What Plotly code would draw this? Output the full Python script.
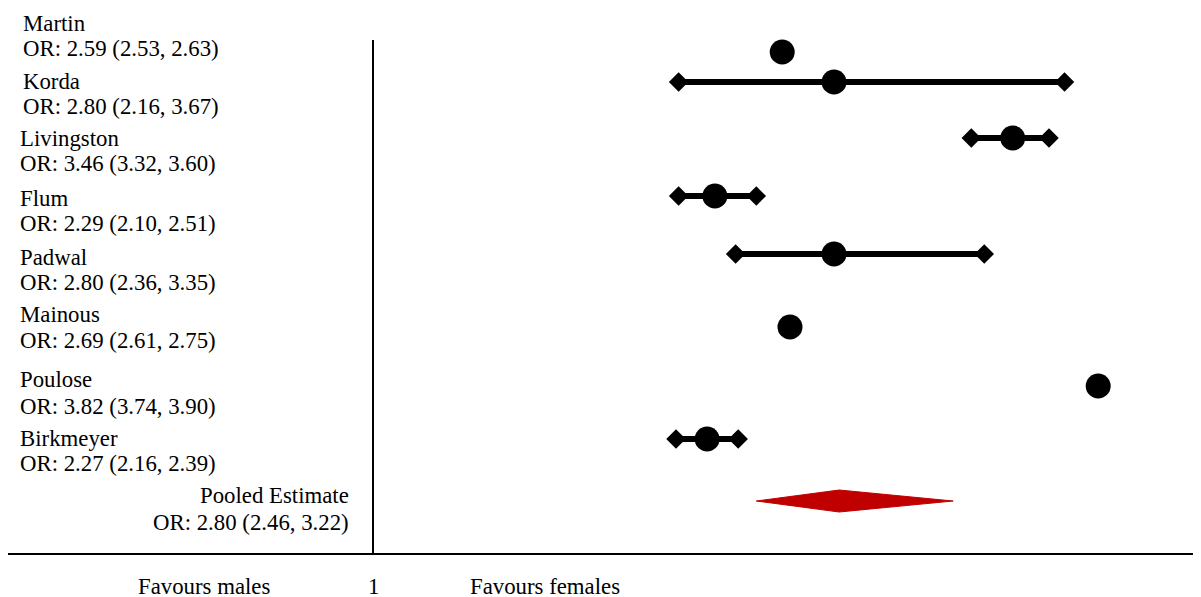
import plotly.graph_objects as go

# ---- data ----
studies = ["Martin", "Korda", "Livingston", "Flum", "Padwal", "Mainous", "Poulose", "Birkmeyer"]
# values as printed in the labels
or_text = ["2.59 (2.53, 2.63)", "2.80 (2.16, 3.67)", "3.46 (3.32, 3.60)", "2.29 (2.10, 2.51)",
           "2.80 (2.36, 3.35)", "2.69 (2.61, 2.75)", "3.82 (3.74, 3.90)", "2.27 (2.16, 2.39)"]
# values as plotted
estimate = [2.58, 2.78, 3.47, 2.32, 2.78, 2.61, 3.80, 2.29]
ci_low = [None, 2.18, 3.31, 2.18, 2.40, None, None, 2.17]
ci_high = [None, 3.67, 3.61, 2.48, 3.36, None, None, 2.41]
pooled_name = "Pooled Estimate"
pooled_text = "2.80 (2.46, 3.22)"
pooled_est = 2.80
pooled_low = 2.48
pooled_high = 3.24
left_label = "Favours males"
null_label = "1"
right_label = "Favours females"
null_value = 1

# ---- layout positions (page pixels) ----
marker_rows = [52, 82, 138, 196, 254, 327, 386, 439]
name_rows = [23, 81, 138, 198, 257, 314, 379, 438]
or_rows = [48, 106, 163, 223, 282, 340, 406, 463]
label_px = [22.7, 22.7, 20, 20, 20, 20, 20, 20]
pooled_row = 501
pooled_name_row = 495
pooled_or_row = 522

W, H = 1201, 597
OFF = 8            # page offset of the figure
px0, pscale = 114.0 - OFF, 259.0
x0 = -px0 / pscale
x1 = (W - px0) / pscale


def px_to_x(p):
    """page x pixel -> data x"""
    return (p - OFF - px0) / pscale


def py(p):
    """page y pixel -> data y"""
    return p - OFF


FONT = "Liberation Serif, Times New Roman, serif"
FS = 22.8
fig = go.Figure()

# CI lines with diamond ends
for i, s in enumerate(studies):
    if ci_low[i] is None:
        continue
    fig.add_trace(go.Scatter(
        x=[ci_low[i], ci_high[i]], y=[py(marker_rows[i])] * 2,
        mode="lines+markers",
        line=dict(color="black", width=6),
        marker=dict(symbol="diamond", size=15, color="black"),
        hoverinfo="skip", showlegend=False))

# point estimates
fig.add_trace(go.Scatter(
    x=estimate, y=[py(r) for r in marker_rows], mode="markers",
    marker=dict(symbol="circle", size=25, color="black"),
    text=studies, showlegend=False))

# pooled diamond
fig.add_trace(go.Scatter(
    x=[pooled_low, pooled_est, pooled_high, pooled_est, pooled_low],
    y=[py(pooled_row), py(pooled_row) - 11, py(pooled_row), py(pooled_row) + 11, py(pooled_row)],
    mode="lines", fill="toself", fillcolor="#C00000",
    line=dict(color="#C00000", width=1),
    hoverinfo="skip", showlegend=False))

# reference lines
fig.add_shape(type="line", x0=null_value, x1=null_value, y0=py(40), y1=py(554),
              xref="x", yref="y", line=dict(color="black", width=2))
fig.add_shape(type="line", x0=x0, x1=x1, y0=py(554), y1=py(554),
              xref="x", yref="y", line=dict(color="black", width=2))


def txt(x, y, t, anchor="left"):
    fig.add_annotation(x=x, y=y, text=t, showarrow=False, xanchor=anchor,
                       yanchor="middle", font=dict(family=FONT, size=FS, color="black"))


# study labels
for i, s in enumerate(studies):
    lx = px_to_x(label_px[i] - 2)
    txt(lx, py(name_rows[i]), s)
    txt(lx, py(or_rows[i]), f"OR: {or_text[i]}")

rx = px_to_x(351)
txt(rx, py(pooled_name_row), pooled_name, "right")
txt(rx, py(pooled_or_row), f"OR: {pooled_text}", "right")

# bottom labels
txt(px_to_x(204), py(586), left_label, "center")
txt(null_value, py(586), null_label, "center")
txt(px_to_x(545), py(586), right_label, "center")

fig.update_layout(
    width=W, height=H, margin=dict(l=0, r=0, t=0, b=0),
    paper_bgcolor="white", plot_bgcolor="white",
    xaxis=dict(range=[x0, x1], visible=False, fixedrange=True),
    yaxis=dict(range=[H, 0], visible=False, fixedrange=True),
    showlegend=False,
)

fig.write_html("out.html")
